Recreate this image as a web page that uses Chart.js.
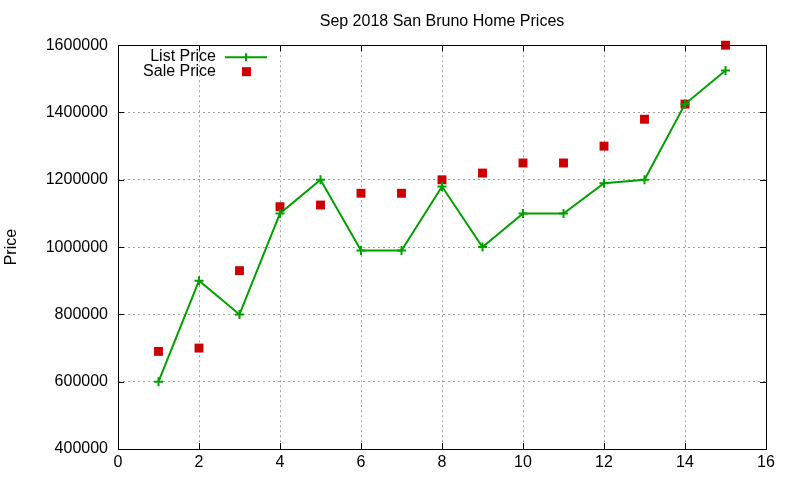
<!DOCTYPE html>
<html>
<head>
<meta charset="utf-8">
<script src="https://cdn.jsdelivr.net/npm/chart.js@4"></script>
<style>
  html, body { margin: 0; padding: 0; background: #fff; }
  #wrap { width: 800px; height: 480px; }
</style>
</head>
<body>
<div id="wrap"><canvas id="c" width="800" height="480"></canvas></div>
<script>
const chartTitle = 'Sep 2018 San Bruno Home Prices';
const yAxisTitle = 'Price';
const seriesNames = ['List Price', 'Sale Price'];
const xValues = [1, 2, 3, 4, 5, 6, 7, 8, 9, 10, 11, 12, 13, 14, 15];
const listPrice = [600000, 900000, 800000, 1100000, 1200000, 990000, 990000, 1180000, 1000000, 1100000, 1100000, 1190000, 1200000, 1425000, 1525000];
const salePrice = [690000, 700000, 930000, 1120000, 1125000, 1160000, 1160000, 1200000, 1220000, 1250000, 1250000, 1300000, 1380000, 1425000, 1600000];
const xTickRange = [0, 16, 2];
const yTickRange = [400000, 1600000, 200000];

const FONT = 'Liberation Sans, Arial, sans-serif';
const GREEN = '#00a000';
const RED = '#cc0000';

const framePlugin = {
  id: 'frame',
  afterDatasetsDraw(chart) {
    const { ctx, chartArea: a, scales } = chart;
    ctx.save();
    ctx.strokeStyle = '#000';
    ctx.lineWidth = 1;
    ctx.setLineDash([]);
    const L = 6;
    ctx.beginPath();
    scales.y.ticks.forEach(t => {
      const y = Math.round(scales.y.getPixelForValue(t.value)) + 0.5;
      ctx.moveTo(a.left, y); ctx.lineTo(a.left + L, y);
      ctx.moveTo(a.right, y); ctx.lineTo(a.right - L, y);
    });
    scales.x.ticks.forEach(t => {
      const x = Math.round(scales.x.getPixelForValue(t.value)) + 0.5;
      ctx.moveTo(x, a.bottom); ctx.lineTo(x, a.bottom - L);
      ctx.moveTo(x, a.top); ctx.lineTo(x, a.top + L);
    });
    ctx.stroke();
    ctx.strokeRect(Math.round(a.left) + 0.5, Math.round(a.top) + 0.5,
                   Math.round(a.right - a.left), Math.round(a.bottom - a.top));
    ctx.restore();
  },
  afterDraw(chart) {
    // legend (gnuplot style: text right-aligned, sample on the right)
    const { ctx, chartArea: a } = chart;
    ctx.save();
    ctx.font = '16px ' + FONT;
    ctx.fillStyle = '#000';
    ctx.textAlign = 'right';
    ctx.textBaseline = 'middle';
    const textX = a.left + 98;
    const rows = [a.top + 11, a.top + 26];
    chart.data.datasets.forEach((ds, i) => {
      const y = rows[i];
      ctx.fillText(ds.label, textX, y);
      const cx = textX + 30;
      if (ds.showLine !== false) {
        ctx.strokeStyle = ds.borderColor;
        ctx.lineWidth = 2;
        ctx.beginPath();
        ctx.moveTo(textX + 9, y + 1); ctx.lineTo(textX + 51, y + 1);
        ctx.moveTo(cx, y - 3); ctx.lineTo(cx, y + 5);
        ctx.stroke();
      } else {
        ctx.fillStyle = ds.backgroundColor;
        ctx.fillRect(cx - 4, y - 4, 9, 9);
        ctx.fillStyle = '#000';
      }
    });
    ctx.restore();
  }
};

new Chart(document.getElementById('c'), {
  type: 'line',
  data: {
    datasets: [
      {
        label: seriesNames[0],
        data: xValues.map((x, i) => ({ x, y: listPrice[i] })),
        borderColor: GREEN,
        backgroundColor: GREEN,
        borderWidth: 2,
        tension: 0,
        pointStyle: 'cross',
        pointRadius: 4.5,
        pointBorderWidth: 2,
        pointBorderColor: GREEN,
        pointHoverRadius: 4.5,
        fill: false,
        clip: false
      },
      {
        label: seriesNames[1],
        data: xValues.map((x, i) => ({ x, y: salePrice[i] })),
        showLine: false,
        borderColor: RED,
        backgroundColor: RED,
        pointStyle: 'rect',
        pointRadius: 6.3,
        pointBorderWidth: 0,
        pointHoverRadius: 6.3,
        clip: false
      }
    ]
  },
  options: {
    responsive: false,
    animation: false,
    devicePixelRatio: 1,
    layout: { padding: { left: 0, right: 34, top: 0, bottom: 0 } },
    plugins: {
      legend: { display: false },
      tooltip: { enabled: false },
      title: {
        display: true,
        text: chartTitle,
        fullSize: false,
        color: '#000',
        font: { family: FONT, size: 16, weight: 'normal' },
        padding: { top: 12, bottom: 14 }
      }
    },
    scales: {
      x: {
        type: 'linear',
        min: xTickRange[0],
        max: xTickRange[1],
        ticks: { stepSize: xTickRange[2], color: '#000', font: { family: FONT, size: 16 }, padding: 4, maxRotation: 0 },
        grid: { color: '#a0a0a0', lineWidth: 1, drawTicks: false },
        border: { display: false, dash: [2, 3] },
        afterFit(s) { s.height = 31; }
      },
      y: {
        type: 'linear',
        min: yTickRange[0],
        max: yTickRange[1],
        ticks: { stepSize: yTickRange[2], color: '#000', font: { family: FONT, size: 16 }, padding: 10, callback: v => String(v) },
        grid: { color: '#a0a0a0', lineWidth: 1, drawTicks: false },
        border: { display: false, dash: [2, 3] },
        title: { display: true, text: yAxisTitle, color: '#000', font: { family: FONT, size: 16 }, padding: { top: 2, bottom: 0 } },
        afterFit(s) { s.width = 118; }
      }
    }
  },
  plugins: [framePlugin]
});
</script>
</body>
</html>
